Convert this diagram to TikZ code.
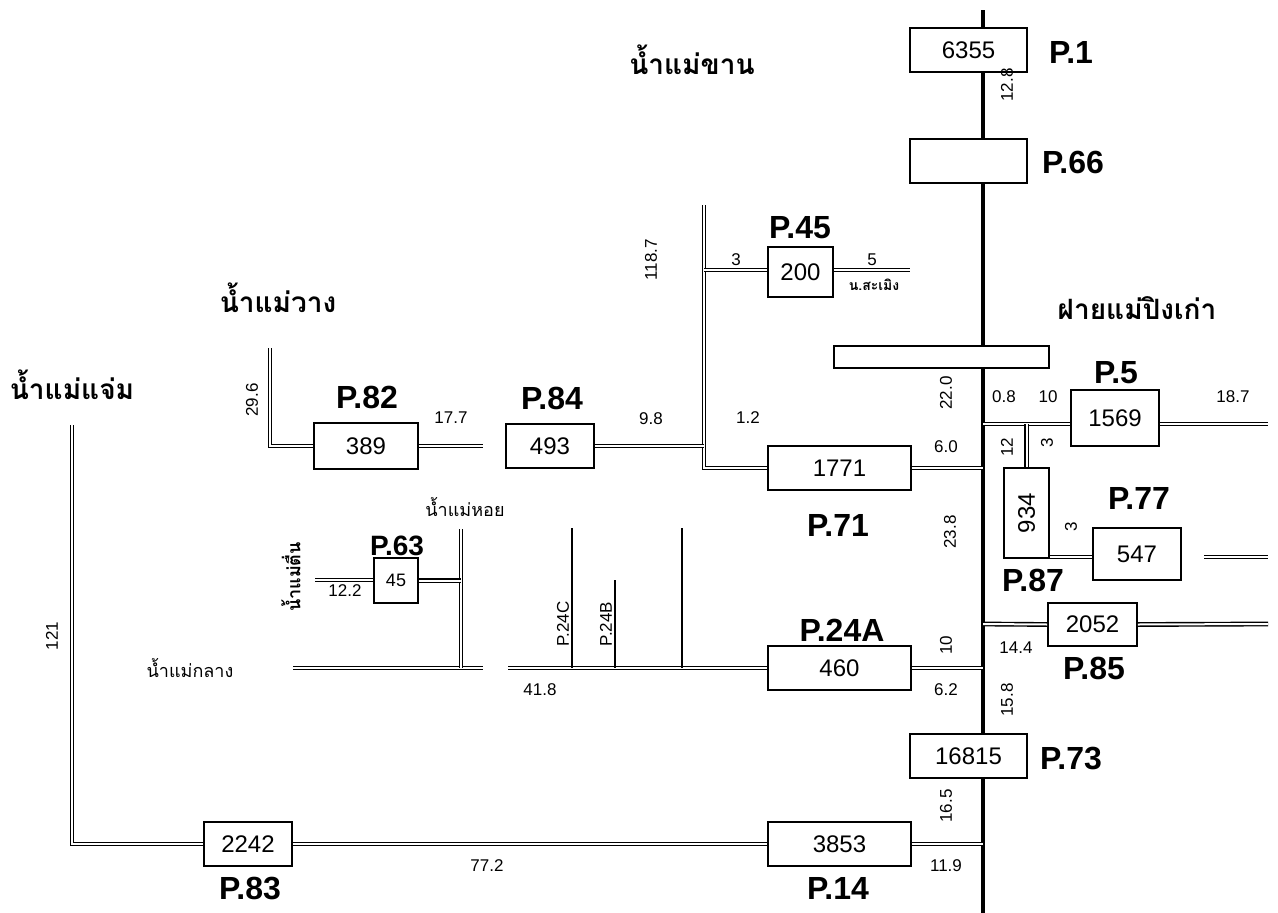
\documentclass[tikz,border=0pt]{standalone}
\usepackage{fontspec}
\setmainfont{Liberation Sans}
\newfontfamily\thaifont[Script=Thai]{Loma}
\usepackage{tikz}
\usetikzlibrary{calc,positioning}
\tikzset{
  mainriver/.style={line width=4.5pt},
  stream/.style={double,double distance=2pt,line width=1.4pt},
  feeder/.style={line width=2pt},
  station/.style={draw,fill=white,line width=1.6pt,inner sep=0pt,font=\fontsize{24}{26}\selectfont},
  pname/.style={font=\fontsize{32}{34}\selectfont\bfseries,inner sep=0pt},
  km/.style={font=\fontsize{17}{18}\selectfont,inner sep=0pt},
  rname/.style={font=\thaifont\bfseries\fontsize{28}{30}\selectfont,inner sep=0pt},
  rsmall/.style={font=\thaifont\fontsize{18}{20}\selectfont,inner sep=0pt}
}
\begin{document}
\begin{tikzpicture}[x=1pt,y=-1pt]
\useasboundingbox (0,0) rectangle (1278,913);
% mae ping
\coordinate (top) at (983,10);
\coordinate (bot) at (983,913);
\draw[mainriver] (top)--(bot);
% stations
\node[station,minimum width=117,minimum height=44] (p1) at (968.5,50) {6355};
\node[station,minimum width=117,minimum height=44] (p66) at (968.5,161) {};
\node[station,minimum width=215,minimum height=22] (weir) at (941.5,357) {};
\node[station,minimum width=65,minimum height=50] (p45) at (800.5,272) {200};
\node[station,minimum width=143,minimum height=44] (p71) at (839.5,468) {1771};
\node[station,minimum width=88,minimum height=44] (p84) at (550,446) {493};
\node[station,minimum width=104,minimum height=46] (p82) at (366,446) {389};
\node[station,minimum width=44,minimum height=45,font=\fontsize{18}{20}\selectfont] (p63) at (396,580.5) {45};
\node[station,minimum width=143,minimum height=44] (p24a) at (839.5,668) {460};
\node[station,minimum width=88,minimum height=56] (p5) at (1115,418) {1569};
\node[station,minimum width=45,minimum height=90] (p87) at (1026.5,513) {\rotatebox{90}{934}};
\node[station,minimum width=88,minimum height=52] (p77) at (1137,554) {547};
\node[station,minimum width=89,minimum height=43] (p85) at (1092.5,624.5) {2052};
\node[station,minimum width=117,minimum height=44] (p73) at (968.5,756) {16815};
\node[station,minimum width=143,minimum height=44] (p14) at (839.5,844) {3853};
\node[station,minimum width=88,minimum height=44] (p83) at (248,844) {2242};
% tributaries
\coordinate (n118) at (704,205);
\coordinate (sam) at (910,270);
\draw[stream] (n118) |- (p71.west);
\draw[stream] (p45.west |- sam) -- (sam -| n118);
\draw[stream] (p45.east |- sam) -- (sam);
\draw[stream] (p84.east) -- (p84.east -| n118);
\draw[stream] (p71.east) -- (p71.east -| top);
\coordinate (nwang) at (270,348);
\coordinate (e82) at (483,446);
\draw[stream] (nwang) |- (p82.west);
\draw[stream] (p82.east) -- (e82);
% mae klang
\coordinate (k0) at (293,668);
\coordinate (k2) at (483,668);
\coordinate (k1) at (508,668);
\coordinate (hoi) at (461,529);
\coordinate (tuen) at (315,580);
\draw[stream] (k0) -- (k2);
\draw[stream] (hoi) -- (hoi |- k2);
\draw[stream] (p63.east) -- (p63.east -| hoi);
\draw[stream] (tuen) -- (tuen -| p63.west);
\draw[stream] (k1) -- (p24a.west);
\draw[stream] (p24a.east) -- (p24a.east -| top);
\foreach \nm/\xx/\yy in {c24/572/528, b24/615/580, t24/682/528}{
  \coordinate (\nm) at (\xx,\yy);
  \draw[feeder] (\nm) -- (\nm |- k1);}
% mae chaem
\coordinate (chaem) at (72,425);
\draw[stream] (chaem) |- (p83.west);
\draw[stream] (p83.east) -- (p14.west);
\draw[stream] (p14.east) -- (p14.east -| top);
% east side
\coordinate (j5) at (983,424);
\coordinate (e5) at (1268,424);
\draw[stream] (j5) -- (j5 -| p5.west);
\draw[stream] (p5.east |- j5) -- (e5);
\draw[stream] (p87.north) -- (p87.north |- j5);
\coordinate (s77) at (1204,557);
\coordinate (e77) at (1268,557);
\draw[stream] (p87.east |- e77) -- (p77.west |- e77);
\draw[stream] (s77) -- (e77);
\coordinate (j85) at (983,624);
\coordinate (e85) at (1268,624);
\draw[stream] (j85) -- (p85.west);
\draw[stream] (p85.east) -- (e85);
% station codes
\foreach \nm/\xx/\yy/\tx in {l1/1071/52/P.1, l66/1073/162/P.66, l45/800/228/P.45,
  l5/1116/373/P.5, l77/1139/498/P.77, l87/1033/580/P.87, l82/367/397/P.82,
  l84/552/398/P.84, l71/838/525/P.71, l24a/842/630/P.24A, l85/1094/668/P.85,
  l73/1071/758/P.73, l83/250/888/P.83, l14/838/888/P.14}
  \node[pname] (\nm) at (\xx,\yy) {\tx};
\node[pname,font=\fontsize{28}{30}\selectfont\bfseries] (l63) at (397,546) {P.63};
% distances
\foreach \nm/\xx/\yy/\tx in {d3/736/260/3, d5/872/260/5, d177/451/418/17.7,
  d98/651/419/9.8, d12a/748/418/1.2, d60/946/447/6.0, d08/1004/397/0.8,
  d10/1048/397/10, d187/1233/397/18.7, d122/345/591/12.2, d62/946/690/6.2,
  d418/540/690/41.8, d144/1016/648/14.4, d772/487/866/77.2, d119/946/866/11.9}
  \node[km] (\nm) at (\xx,\yy) {\tx};
\foreach \nm/\xx/\yy/\tx in {r128/1007/85/12.8, r1187/651/260/118.7, r296/252/400/29.6,
  r220/946/393/22.0, r12/1007/447/12, r3a/1047/443/3, r3b/1071/527/3,
  r238/950/532/23.8, r121/52/636/121, r10/946/645/10, r158/1007/700/15.8,
  r165/946/806/16.5, r24c/563/624/P.24C, r24b/606/624/P.24B}
  \node[km,rotate=90] (\nm) at (\xx,\yy) {\tx};
% river names
\node[rname] (t_khan) at (692,60) {น้ำแม่ขาน};
\node[rname] (t_wang) at (278,298) {น้ำแม่วาง};
\node[rname] (t_chaem) at (72,385) {น้ำแม่แจ่ม};
\node[rname] (t_weir) at (1137,308) {ฝายแม่ปิงเก่า};
\node[rsmall] (t_hoi) at (465,507) {น้ำแม่หอย};
\node[rsmall] (t_klang) at (190,668) {น้ำแม่กลาง};
\node[rsmall,font=\thaifont\bfseries\fontsize{18}{20}\selectfont,rotate=90] (t_tuen) at (291,577) {น้ำแม่ตื่น};
\node[rsmall,font=\thaifont\bfseries\fontsize{14}{16}\selectfont] (t_sam) at (874,285) {น.สะเมิง};
\end{tikzpicture}
\end{document}
